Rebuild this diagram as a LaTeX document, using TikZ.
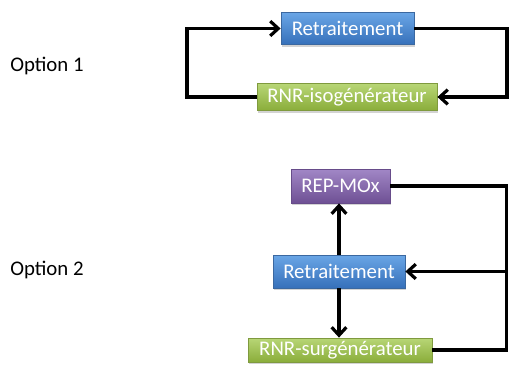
\documentclass[tikz,border=0pt]{standalone}
\usepackage{fontspec}
\setmainfont{Carlito}
\usetikzlibrary{arrows.meta,shadows,calc}
\definecolor{bluetop}{HTML}{6AA6E6}
\definecolor{bluebot}{HTML}{3670BA}
\definecolor{blueline}{HTML}{3B68A0}
\definecolor{greentop}{HTML}{B8D676}
\definecolor{greenbot}{HTML}{8AAD3A}
\definecolor{greenline}{HTML}{7F9A3E}
\definecolor{purptop}{HTML}{A187C6}
\definecolor{purpbot}{HTML}{6E5094}
\definecolor{purpline}{HTML}{674C8A}
\tikzset{
  box/.style={inner sep=0pt, font=\fontsize{15.6}{18}\selectfont, text=white,
    drop shadow={opacity=0.35, shadow xshift=1pt, shadow yshift=-1.5pt}},
  bluebox/.style={box, draw=blueline, line width=0.6pt, top color=bluetop, bottom color=bluebot},
  greenbox/.style={box, draw=greenline, line width=0.6pt, top color=greentop, bottom color=greenbot},
  purpbox/.style={box, draw=purpline, line width=0.6pt, top color=purptop, bottom color=purpbot},
  link/.style={line width=2.8pt, black},
  arr/.style={link, -{Straight Barb[length=6pt, width=11pt, line width=2.4pt]}},
  lab/.style={font=\fontsize{15.6}{18}\selectfont, anchor=west, inner sep=0pt}
}
\begin{document}
\begin{tikzpicture}[x=0.75pt, y=-0.75pt]
\useasboundingbox (0,0) rectangle (509,369);
% Option 1
\node[lab] (o1) at (10,66) {Option 1};
\node[bluebox, minimum width=99.75pt, minimum height=24pt] (ret1) at (347.5,28.5) {Retraitement};
\node[greenbox, minimum width=135pt, minimum height=20.25pt] (iso) at (347,97) {RNR-isogénérateur};
\coordinate (l1) at (187,0);
\coordinate (r1) at (507,0);
\draw[arr] (iso.west) -- (iso.west -| l1) |- (ret1.west);
\draw[arr] (ret1.east) -- (ret1.east -| r1) |- (iso.east);
% Option 2
\node[lab] (o2) at (10,270) {Option 2};
\node[purpbox, minimum width=74.25pt, minimum height=25.5pt] (rep) at (340.5,186) {REP-MOx};
\node[bluebox, minimum width=99pt, minimum height=24.75pt] (ret2) at (339,271.5) {Retraitement};
\node[greenbox, minimum width=138pt, minimum height=18pt] (sur) at (340,350) {RNR-surgénérateur};
\coordinate (r2) at (506.5,0);
\draw[link] (rep.east) -- (rep.east -| r2) -- (sur.east -| r2) -- (sur.east);
\draw[arr] (ret2.east -| r2) -- (ret2.east);
\draw[arr] (ret2.north) -- (ret2.north |- rep.south);
\draw[arr] (ret2.south) -- (ret2.south |- sur.north);
\end{tikzpicture}
\end{document}
